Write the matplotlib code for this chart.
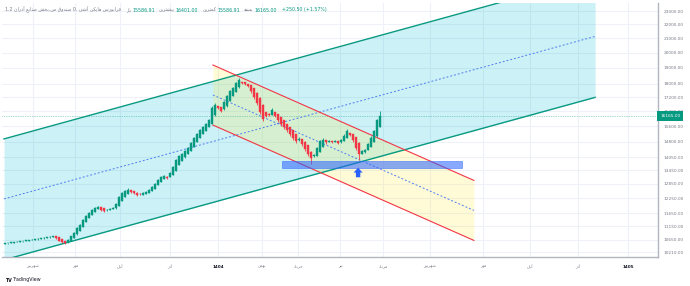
import numpy as np
import matplotlib
matplotlib.use('Agg')
import matplotlib.pyplot as plt
from matplotlib.patches import Rectangle
from matplotlib.ticker import NullLocator

# ---- candle data (Heikin Ashi, daily) ----
opens = [10500, 10515, 10530, 10545, 10560, 10575, 10590, 10605, 10620, 10635,
         10650, 10665, 10680, 10700, 10715, 10735, 10755, 10775, 10735, 10660,
         10590, 10555, 10600, 10710, 10840, 10980, 11130, 11290, 11460, 11590,
         11710, 11810, 11870, 11830, 11750, 11765, 11795, 11830, 11920, 12150,
         12300, 12420, 12570, 12540, 12480, 12430, 12400, 12440, 12480, 12545,
         12650, 12790, 12930, 13080, 13170, 13140, 13240, 13420, 13680, 13900,
         14050, 14200, 14350, 14550, 14780, 14990, 15200, 15380, 15550, 15740,
         16180, 16680, 16640, 16510, 16680, 16980, 17270, 17510, 17780, 18120,
         18080, 18010, 17930, 17750, 17480, 17180, 16780, 16380, 16270, 16220,
         16350, 16250, 16100, 15920, 15740, 15580, 15400, 15200, 14900, 14950,
         14820, 14630, 14330, 14100, 14120, 14300, 14570, 14880, 14800, 14830,
         14810, 14830, 14780, 14860, 14990, 15230, 15190, 15030, 14770, 14200,
         14290, 14390, 14560, 14800, 15080, 15586.91]
closes = [10520, 10535, 10550, 10565, 10580, 10595, 10610, 10625, 10640, 10655,
          10670, 10690, 10705, 10720, 10740, 10760, 10790, 10700, 10620, 10560,
          10520, 10640, 10780, 10890, 11070, 11190, 11380, 11530, 11650, 11770,
          11850, 11890, 11780, 11730, 11780, 11810, 11850, 12010, 12290, 12460,
          12545, 12590, 12500, 12460, 12380, 12420, 12460, 12500, 12590, 12720,
          12850, 13020, 13150, 13200, 13110, 13330, 13600, 13930, 14120, 14210,
          14360, 14500, 14750, 15000, 15200, 15410, 15560, 15720, 15930, 16590,
          16760, 16590, 16430, 16930, 17280, 17570, 17750, 18040, 18230, 18040,
          17980, 17870, 17570, 17220, 16870, 16370, 15990, 16150, 16200, 16480,
          16150, 15930, 15720, 15560, 15410, 15200, 15000, 14850, 14950, 14700,
          14450, 14210, 14020, 14160, 14500, 14850, 14900, 14800, 14850, 14800,
          14850, 14750, 14900, 15100, 15360, 15150, 14900, 14500, 14210, 14360,
          14400, 14700, 15000, 15350, 15914.5, 16165]
highs = [10530, 10545, 10560, 10575, 10590, 10605, 10620, 10635, 10650, 10665,
         10680, 10700, 10715, 10730, 10750, 10770, 10800, 10780, 10740, 10665,
         10595, 10660, 10800, 10920, 11100, 11230, 11420, 11580, 11700, 11820,
         11900, 11940, 11880, 11840, 11800, 11840, 11880, 12050, 12340, 12520,
         12600, 12680, 12580, 12545, 12485, 12450, 12490, 12530, 12620, 12760,
         12900, 13070, 13200, 13260, 13180, 13380, 13650, 13990, 14180, 14260,
         14420, 14560, 14800, 15060, 15260, 15470, 15620, 15790, 16000, 16700,
         16870, 16720, 16650, 17000, 17350, 17650, 17830, 18120, 18360, 18130,
         18085, 18015, 17935, 17760, 17490, 17190, 16790, 16250, 16300, 16600,
         16360, 16260, 16105, 15925, 15745, 15585, 15405, 15205, 15050, 14960,
         14825, 14635, 14335, 14230, 14560, 14920, 15000, 14890, 14900, 14850,
         14900, 14840, 14960, 15180, 15480, 15240, 15195, 15035, 14775, 14420,
         14470, 14760, 15080, 15420, 15990, 16401]
lows = [10490, 10505, 10520, 10535, 10550, 10565, 10580, 10595, 10610, 10625,
        10640, 10655, 10670, 10690, 10705, 10725, 10745, 10680, 10600, 10530,
        10480, 10545, 10595, 10705, 10835, 10975, 11125, 11285, 11455, 11585,
        11705, 11805, 11740, 11690, 11745, 11760, 11790, 11825, 11915, 12145,
        12295, 12415, 12460, 12420, 12330, 12370, 12395, 12435, 12475, 12540,
        12645, 12785, 12925, 13075, 13060, 13135, 13235, 13415, 13675, 13895,
        14045, 14195, 14345, 14545, 14775, 14985, 15195, 15375, 15545, 15735,
        16175, 16540, 16360, 16505, 16675, 16975, 17265, 17505, 17775, 17980,
        17920, 17800, 17480, 17120, 16760, 16250, 15880, 16100, 16150, 16200,
        16080, 15850, 15640, 15480, 15320, 15100, 14900, 14760, 14850, 14620,
        14350, 14100, 13750, 14060, 14110, 14290, 14560, 14720, 14780, 14740,
        14790, 14680, 14770, 14850, 14980, 15080, 14820, 14400, 13930, 14190,
        14280, 14380, 14550, 14790, 15070, 15586.91]

last_price = 16165.00

# ---- drawings (bar index, price) ----
chan_x = [-0.33, 196.7]
chan_upper = [14952, 25843]
chan_mid = [12217, 21114]
chan_lower = [9950, 17195]

red_x = [69.3, 156.3]
red_upper = [19177, 13002]
red_mid = [17335, 11753]
red_lower = [15668, 10624]

zone_x = [92.3, 152.3]
zone_p = [13560, 13880]
arrow_x = 117.7
arrow_p = [13140, 13570]

# ---- axes labels ----
price_ticks = [23000, 22000, 21000, 20000, 19000, 18000, 17200, 16400, 15600,
               14800, 14050, 13450, 12850, 12250, 11650, 11150, 10650, 10210]
month_labels = ['شهریور', 'مهر', 'آبان', 'آذر', '1404', 'بهمن', 'خرداد', 'تیر',
                'مرداد', 'شهریور', 'مهر', 'آبان', 'آذر', '1405']
month_pos = [9.3, 23.3, 38.3, 55, 71, 85.7, 97.7, 111.7, 126, 141.7, 159.3, 175, 191, 207.7]

# persian letters -> (isolated, final, initial, medial) presentation forms
FORMS = {
    'ا': (0xFE8D, 0xFE8E, None, None), 'آ': (0xFE81, 0xFE82, None, None),
    'ب': (0xFE8F, 0xFE90, 0xFE91, 0xFE92), 'پ': (0xFB56, 0xFB57, 0xFB58, 0xFB59),
    'ت': (0xFE95, 0xFE96, 0xFE97, 0xFE98), 'خ': (0xFEA5, 0xFEA6, 0xFEA7, 0xFEA8),
    'د': (0xFEA9, 0xFEAA, None, None), 'ذ': (0xFEAB, 0xFEAC, None, None),
    'ر': (0xFEAD, 0xFEAE, None, None), 'ز': (0xFEAF, 0xFEB0, None, None),
    'س': (0xFEB1, 0xFEB2, 0xFEB3, 0xFEB4), 'ش': (0xFEB5, 0xFEB6, 0xFEB7, 0xFEB8),
    'ص': (0xFEB9, 0xFEBA, 0xFEBB, 0xFEBC), 'ع': (0xFEC9, 0xFECA, 0xFECB, 0xFECC),
    'ف': (0xFED1, 0xFED2, 0xFED3, 0xFED4), 'ق': (0xFED5, 0xFED6, 0xFED7, 0xFED8),
    'ک': (0xFB8E, 0xFB8F, 0xFB90, 0xFB91), 'ل': (0xFEDD, 0xFEDE, 0xFEDF, 0xFEE0),
    'م': (0xFEE1, 0xFEE2, 0xFEE3, 0xFEE4), 'ن': (0xFEE5, 0xFEE6, 0xFEE7, 0xFEE8),
    'و': (0xFEED, 0xFEEE, None, None), 'ه': (0xFEE9, 0xFEEA, 0xFEEB, 0xFEEC),
    'ی': (0xFBFC, 0xFBFD, 0xFBFE, 0xFBFF),
}


def fa(word):
    # shape + reverse one persian word (matplotlib has no bidi/shaping)
    if not any(ch in FORMS for ch in word):
        return word
    out = []
    for k, ch in enumerate(word):
        f = FORMS.get(ch)
        if f is None:
            out.append(ch)
            continue
        prev = word[k - 1] if k > 0 else ''
        nxt = word[k + 1] if k + 1 < len(word) else ''
        jp = prev in FORMS and FORMS[prev][2] is not None
        jn = nxt in FORMS and f[2] is not None
        if jp and jn:
            cp = f[3]
        elif jp:
            cp = f[1]
        elif jn:
            cp = f[2]
        else:
            cp = f[0]
        out.append(chr(cp))
    return ''.join(out[::-1])


GREEN = '#089981'
RED = '#f23645'
TEAL = '#089981'
GREY = '#787b86'
W, H = 690, 286

fig = plt.figure(figsize=(W / 100, H / 100), dpi=100)
ax = fig.add_axes([2 / W, 29 / H, 656 / W, 254 / H])
ax.set_yscale('log')
ax.set_xlim(-1, 217.67)
ax.set_ylim(10047, 23628)

# grid
for p in price_ticks:
    ax.axhline(p, color='#eef1f7', lw=0.8, zorder=0)
for m in month_pos:
    ax.axvline(m, color='#eef1f7', lw=0.8, zorder=0)

# big ascending channel
ax.fill_between(chan_x, chan_lower, chan_upper, color='#00bcd4', alpha=0.2, lw=0, zorder=1)
ax.plot(chan_x, chan_upper, color=TEAL, lw=1.0, zorder=3)
ax.plot(chan_x, chan_lower, color=TEAL, lw=1.0, zorder=3)
ax.plot(chan_x, chan_mid, color='#4f7ff0', lw=0.7, ls=(0, (2, 2)), zorder=3)

# descending channel
ax.fill_between(red_x, red_lower, red_upper, color='#ffeb3b', alpha=0.2, lw=0, zorder=1)
ax.plot(red_x, red_upper, color=RED, lw=0.8, zorder=3)
ax.plot(red_x, red_lower, color=RED, lw=0.8, zorder=3)
ax.plot(red_x, red_mid, color='#4f7ff0', lw=0.7, ls=(0, (2, 2)), zorder=3)

# price line
ax.axhline(last_price, color=TEAL, lw=0.5, ls=(0, (1, 1.5)), alpha=0.7, zorder=2)

# candles
idx = np.arange(len(closes))
o = np.array(opens)
c = np.array(closes)
cols = [GREEN if cc >= oo else RED for oo, cc in zip(o, c)]
ax.vlines(idx, lows, highs, colors=cols, lw=0.6, zorder=4)
ax.bar(idx, c - o, bottom=o, width=0.7, color=cols, edgecolor=cols, lw=0.3, zorder=5)

# support zone + arrow
ax.add_patch(Rectangle((zone_x[0], zone_p[0]), zone_x[1] - zone_x[0], zone_p[1] - zone_p[0],
                       facecolor='#2962ff', alpha=0.55, edgecolor='#2962ff', lw=0.6, zorder=6))
ax.annotate('', xy=(arrow_x, arrow_p[1]), xytext=(arrow_x, arrow_p[0]),
            arrowprops=dict(facecolor='#2962ff', edgecolor='none', width=3.2,
                            headwidth=6.5, headlength=3.5), zorder=7)

# axes styling
for s in ['left', 'top']:
    ax.spines[s].set_visible(False)
for s in ['right', 'bottom']:
    ax.spines[s].set_color('#b2b5be')
    ax.spines[s].set_linewidth(1.0)
ax.yaxis.tick_right()
ax.set_yticks(price_ticks, labels=[f'{p:.2f}' for p in price_ticks])
ax.yaxis.set_minor_locator(NullLocator())
ax.tick_params(axis='y', length=0, pad=4, labelsize=3.1, labelcolor=GREY)
ax.set_xticks(month_pos, labels=[fa(m) for m in month_labels])
ax.tick_params(axis='x', length=0, pad=5.5, labelsize=3.0, labelcolor=GREY)
for t in ax.get_xticklabels():
    if t.get_text().isdigit():
        t.set_color('#131722')
        t.set_fontweight('bold')

# last price tag
ax.annotate(f'{last_price:.2f}', xy=(1.0, last_price), xycoords=('axes fraction', 'data'),
            xytext=(1.5, 0), textcoords='offset points', ha='left', va='center',
            fontsize=3.1, color='white', annotation_clip=False, zorder=10,
            bbox=dict(boxstyle='square,pad=0.7', facecolor=TEAL, edgecolor='none'))

# legend line at top
fig.canvas.draw()
r = fig.canvas.get_renderer()
sym = ' '.join(['1.2', fa('آذران'), fa('صنایع'), fa('س.بخش'), fa('صندوق'), '0,',
                fa('آشی'), fa('هایکن'), fa('فرابورس')])
segs = [(sym, GREY, 5), (fa('باز'), GREY, 1), ('15586.91', TEAL, 4),
        (fa('بیشترین'), GREY, 1), ('16401.00', TEAL, 4),
        (fa('کمترین'), GREY, 1), ('15586.91', TEAL, 4),
        (fa('بسته'), GREY, 1), ('16165.00', TEAL, 5),
        ('+250.50 (+1.57%)', TEAL, 0)]
x = 5
for s, col, gap in segs:
    t = fig.text(x / W, 1 - 10 / H, s, color=col, fontsize=3.4, ha='left', va='center')
    x = t.get_window_extent(r).x1 + gap

fig.text(5 / W, 1 - 280 / H, 'TV', fontsize=3.4, fontweight='bold', color='#131722',
         va='center')
fig.text(13 / W, 1 - 280 / H, 'TradingView', fontsize=3.4, color='#131722', va='center')

fig.savefig('out.png', dpi=100)
